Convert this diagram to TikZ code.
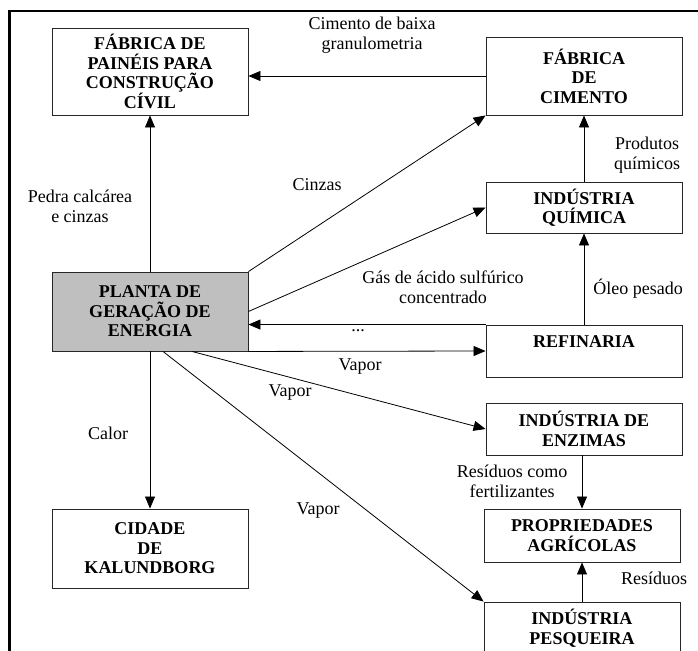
\documentclass[tikz,border=0pt]{standalone}
\usepackage{fontspec}
\setmainfont{Liberation Serif}
\usetikzlibrary{arrows.meta}

\begin{document}
\begin{tikzpicture}[x=1pt, y=-1pt,
	box/.style={rectangle, draw=black!85, line width=.9pt, minimum width=196pt, inner sep=0pt, align=center, font=\fontsize{18}{19.5}\selectfont\bfseries},
	lbl/.style={align=center, inner sep=0pt, font=\fontsize{18}{20}\selectfont},
	flow/.style={-{Triangle[length=12pt,width=10pt]}, line width=.8pt}]
	\useasboundingbox (0,0) rectangle (698,650);
	
	% FRAME
	\draw[line width=2.2pt] (9.5,660) -- (9.5,11) -- (699,11);
	
	% LEFT COLUMN
	\path (150,71.5) node[box, minimum height=87pt] (paineis) {FÁBRICA DE\\PAINÉIS PARA\\CONSTRUÇÃO\\CÍVIL};
	\path (150,311.5) node[box, minimum height=79pt, fill=black!25] (planta) {PLANTA DE\\GERAÇÃO DE\\ENERGIA};
	\path (150,548.5) node[box, minimum height=79pt] (cidade) {CIDADE\\DE\\KALUNDBORG};
	
	% RIGHT COLUMN
	\path (584,76) node[box, minimum height=78pt] (cimento) {FÁBRICA\\DE\\CIMENTO};
	\path (584,207.5) node[box, minimum height=51pt] (quimica) {INDÚSTRIA\\QUÍMICA};
	\path (584,351) node[box, minimum height=52pt] (refinaria) {REFINARIA\\\mbox{}};
	\path (584,429) node[box, minimum height=52pt] (enzimas) {INDÚSTRIA DE\\ENZIMAS};
	\path (582,535.5) node[box, minimum height=53pt] (agricolas) {PROPRIEDADES\\AGRÍCOLAS};
	\path (582,628) node[box, minimum height=52pt] (pesqueira) {INDÚSTRIA\\PESQUEIRA};
	
	% FLOWS
	\draw[flow] (cimento.west) -- (cimento.west -| paineis.east);
	\draw[flow] (planta.north) -- (paineis.south);
	\draw[flow] (planta.north east) -- (cimento.south west);
	\draw[flow] (planta.east) -- (quimica.west);
	\draw[flow] (refinaria.north west) -- (refinaria.north west -| planta.east);
	\draw[flow] (planta.south east) -- (refinaria.west);
	\draw[flow] ([xshift=42pt]planta.south) -- (enzimas.west);
	\draw[flow] ([xshift=13pt]planta.south) -- (pesqueira.north west);
	\draw[flow] (planta.south) -- (cidade.north);
	\draw[flow] (refinaria.north) -- (quimica.south);
	\draw[flow] (quimica.north) -- (cimento.south);
	\draw[flow] (enzimas.south -| agricolas.north) -- (agricolas.north);
	\draw[flow] (pesqueira.north) -- (agricolas.south);
	
	% LABELS
	\path (372,35) node[lbl] (lgranul) {Cimento de baixa\\granulometria};
	\path (80,206) node[lbl] (lpedra) {Pedra calcárea\\e cinzas};
	\path (317,185) node[lbl] (lcinzas) {Cinzas};
	\path (443,287) node[lbl] (lgas) {Gás de ácido sulfúrico\\concentrado};
	\path (358,331) node[lbl] (loutros) {...};
	\path (360,367) node[lbl] (lvapor1) {Vapor};
	\path (290,393) node[lbl] (lvapor2) {Vapor};
	\path (318,511) node[lbl] (lvapor3) {Vapor};
	\path (108,433) node[lbl] (lcalor) {Calor};
	\path (638,289) node[lbl] (loleo) {Óleo pesado};
	\path (647,155) node[lbl] (lprodutos) {Produtos\\químicos};
	\path (512,481) node[lbl] (lresfert) {Resíduos como\\fertilizantes};
	\path (654,578) node[lbl] (lresiduos) {Resíduos};
\end{tikzpicture}
\end{document}
